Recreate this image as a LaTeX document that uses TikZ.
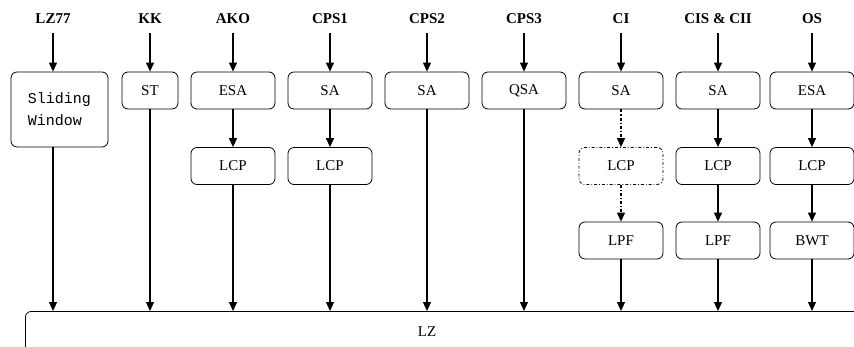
\documentclass[tikz,border=0pt]{standalone}
\usepackage{fontspec}
\setmainfont{Liberation Serif}
\setmonofont{Liberation Mono}
\usetikzlibrary{arrows.meta}
\begin{document}
\begin{tikzpicture}[x=1pt,y=-1pt,
 box/.style={draw, rounded corners=6pt, minimum width=84pt, minimum height=37pt, inner sep=0pt, font=\fontsize{15}{18}\selectfont, line width=0.8pt},
 dbox/.style={box, dash dot},
 lab/.style={font=\fontsize{15}{18}\selectfont\bfseries, anchor=base, inner sep=2pt},
 arr/.style={-{Triangle[length=9pt,width=8pt]}, line width=1.1pt},
 darr/.style={arr, dash dot},
 larr/.style={arr, shorten <=8pt}]
\useasboundingbox (0,0) rectangle (854,346);
\clip (0,0) rectangle (854,346);
% labels
\node[lab] (l1) at (53,23) {LZ77};
\node[lab] (l2) at (150,23) {KK};
\node[lab] (l3) at (233,23) {AKO};
\node[lab] (l4) at (330,23) {CPS1};
\node[lab] (l5) at (427,23) {CPS2};
\node[lab] (l6) at (524,23) {CPS3};
\node[lab] (l7) at (621,23) {CI};
\node[lab] (l8) at (718,23) {CIS \& CII};
\node[lab] (l9) at (812,23) {OS};
% boxes
\node[box, minimum width=97pt, minimum height=75pt, font=\fontsize{15}{22}\selectfont\ttfamily, align=left] (sw) at (59.5,109.5) {Sliding\\Window};
\node[box, minimum width=56pt] (st) at (150,90.5) {ST};
\node[box] (a1) at (233,90.5) {ESA};
\node[box] (a2) at (233,166) {LCP};
\node[box] (c1) at (330,90.5) {SA};
\node[box] (c2) at (330,166) {LCP};
\node[box] (p2) at (427,90.5) {SA};
\node[box] (p3) at (524,90.5) {QSA};
\node[box] (i1) at (621,90.5) {SA};
\node[dbox] (i2) at (621,166) {LCP};
\node[box] (i3) at (621,240.5) {LPF};
\node[box] (s1) at (718,90.5) {SA};
\node[box] (s2) at (718,166) {LCP};
\node[box] (s3) at (718,240.5) {LPF};
\node[box] (o1) at (812,90.5) {ESA};
\node[box] (o2) at (812,166) {LCP};
\node[box] (o3) at (812,240.5) {BWT};
\node[draw, rounded corners=6pt, minimum width=855pt, minimum height=69pt, anchor=north west, line width=0.8pt] (lz) at (25,311) {};
\node[font=\fontsize{15}{18}\selectfont] (lzt) at (427,332) {LZ};
% connectors
\draw[larr] (l1.south) -- (l1.south |- sw.north);
\draw[arr] (sw.south -| l1.south) -- (l1.south |- lz.north);
\draw[larr] (l2.south) -- (st.north);
\draw[arr] (st.south) -- (st.south |- lz.north);
\draw[larr] (l3.south) -- (a1.north);
\draw[arr] (a1.south) -- (a2.north);
\draw[arr] (a2.south) -- (a2.south |- lz.north);
\draw[larr] (l4.south) -- (c1.north);
\draw[arr] (c1.south) -- (c2.north);
\draw[arr] (c2.south) -- (c2.south |- lz.north);
\draw[larr] (l5.south) -- (p2.north);
\draw[arr] (p2.south) -- (p2.south |- lz.north);
\draw[larr] (l6.south) -- (p3.north);
\draw[arr] (p3.south) -- (p3.south |- lz.north);
\draw[larr] (l7.south) -- (i1.north);
\draw[darr] (i1.south) -- (i2.north);
\draw[darr] (i2.south) -- (i3.north);
\draw[arr] (i3.south) -- (i3.south |- lz.north);
\draw[larr] (l8.south) -- (s1.north);
\draw[arr] (s1.south) -- (s2.north);
\draw[arr] (s2.south) -- (s3.north);
\draw[arr] (s3.south) -- (s3.south |- lz.north);
\draw[larr] (l9.south) -- (o1.north);
\draw[arr] (o1.south) -- (o2.north);
\draw[arr] (o2.south) -- (o3.north);
\draw[arr] (o3.south) -- (o3.south |- lz.north);
\end{tikzpicture}
\end{document}
